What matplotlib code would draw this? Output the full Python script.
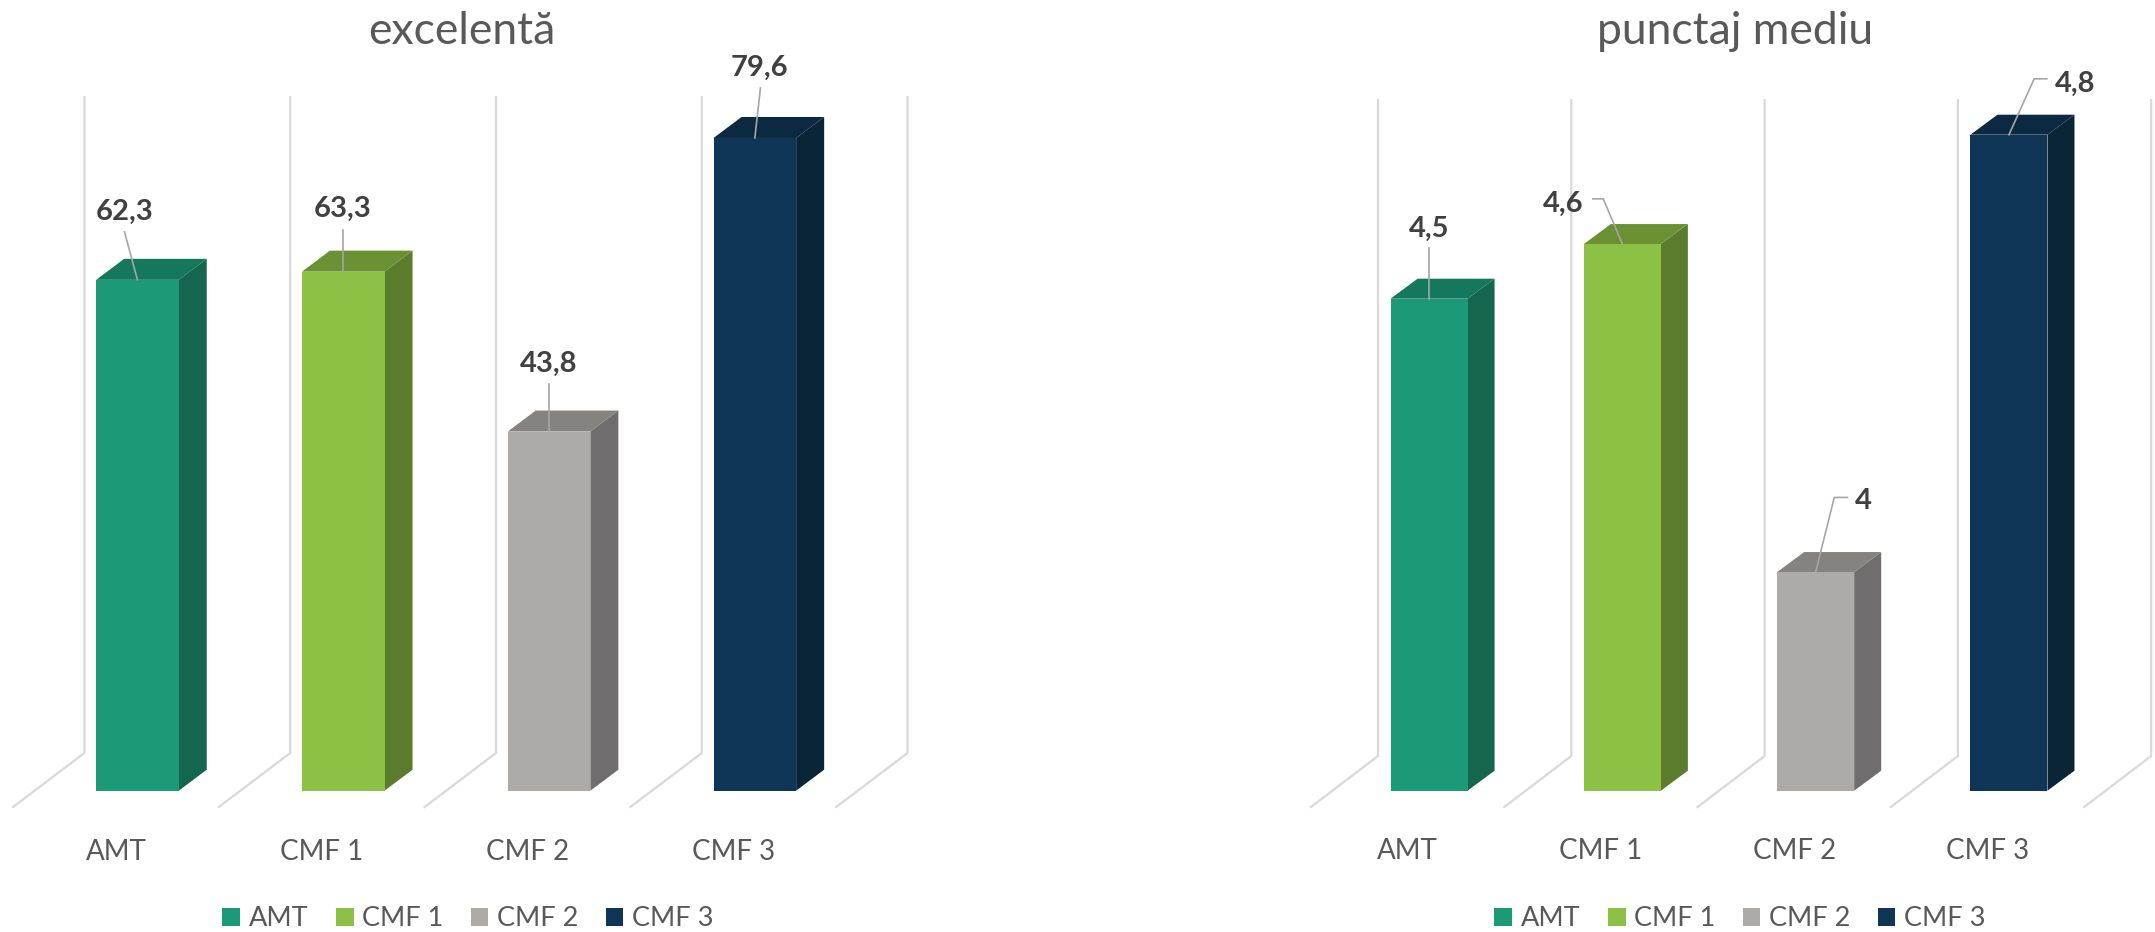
import matplotlib
matplotlib.use("Agg")
import matplotlib.pyplot as plt
from matplotlib.patches import Patch

plt.rcParams['font.family'] = ['Lato', 'Noto Sans', 'DejaVu Sans']

categories = ["AMT", "CMF 1", "CMF 2", "CMF 3"]
excelenta_values = [62.3, 63.3, 43.8, 79.6]
punctaj_values = [4.5, 4.6, 4.0, 4.8]
front_colors = ["#1C9A78", "#8CC146", "#AEAAA8", "#0F3557"]
side_colors = ["#14664F", "#5A7C2C", "#6F6D6D", "#0A2537"]
top_colors = ["#15775B", "#6A9234", "#858280", "#0B2A42"]

W, H = 2155, 932
GREY = "#595959"
DARK = "#404040"
LEADER = "#A6A6A6"
GRID = "#D9D9D9"

fig = plt.figure(figsize=(W / 100, H / 100), dpi=100, facecolor="white")


def draw_panel(title, values, base, top, x0, cat_px, bar_px, depth, floor, lift,
               title_x, title_y, legend_x, leaders, tick_pad):
    y_bottom_px, y_top_px = 807, 134.7
    ax = fig.add_axes([x0 / W, 1 - y_bottom_px / H, 4 * cat_px / W,
                       (y_bottom_px - y_top_px) / H])
    span_px = 656.0
    sy = (top - base) / span_px          # data units per pixel
    sx = 1 / cat_px                      # categories per pixel
    ymin = base - lift * sy
    ax.set_xlim(-0.5, 3.5)
    ax.set_ylim(ymin, top)
    for s in ax.spines.values():
        s.set_visible(False)
    ax.set_yticks([])
    ax.set_xticks(range(len(categories)))
    ax.set_xticklabels(categories, fontsize=20, color=GREY)
    ax.tick_params(axis="x", length=0, pad=tick_pad)

    # floor and back wall guide lines
    gdx, gdy = floor
    for i in range(len(categories) + 1):
        xf = i - 0.5
        xb = xf + gdx * sx
        yb = ymin + gdy * sy
        ax.plot([xf, xb, xb], [ymin, yb, yb + span_px * sy], color=GRID, lw=1.6,
                clip_on=False, zorder=1, solid_joinstyle="miter")

    # bars sit on a plane 'lift' px above the floor front edge
    off = (gdx * lift / gdy) * sx
    dx, dy = depth[0] * sx, depth[1] * sy
    width = bar_px * sx
    positions = [i + off for i in range(len(values))]
    handles = []
    for i, (p, v) in enumerate(zip(positions, values)):
        l, r = p - width / 2, p + width / 2
        ax.bar(p, v - base, width=width, bottom=base, color=front_colors[i],
               zorder=3, clip_on=False, linewidth=0)
        ax.fill([r, r + dx, r + dx, r], [base, base + dy, v + dy, v],
                color=side_colors[i], zorder=2, clip_on=False, linewidth=0)
        ax.fill([l, r, r + dx, l + dx], [v, v, v + dy, v + dy],
                color=top_colors[i], zorder=2, clip_on=False, linewidth=0)
        handles.append(Patch(facecolor=front_colors[i], label=categories[i]))

        # data label and leader, offsets in pixels from the top-centre of the bar
        text_off, path = leaders[i]
        px = [p + a * sx for a, _ in path] + [p]
        py = [v + b * sy for _, b in path] + [v]
        ax.plot(px, py, color=LEADER, lw=1.2, zorder=4, clip_on=False)
        ax.text(p + text_off[0] * sx, v + (text_off[1] - 2.5) * sy,
                f"{v:g}".replace(".", ","),
                ha="center", va="center", fontsize=21, fontweight="bold",
                color=DARK, zorder=5, clip_on=False)

    fig.text(title_x / W, 1 - title_y / H, title, ha="center", va="baseline",
             fontsize=32, color=GREY)
    fig.legend(handles=handles, loc="center", ncol=4, frameon=False,
               bbox_to_anchor=(legend_x / W, 1 - 919 / H), fontsize=19.5,
               labelcolor=GREY, handlelength=0.66, handleheight=0.66,
               handletextpad=0.32, columnspacing=1.0, borderpad=0, borderaxespad=0)


# text offset (px right, px up), then leader path points (px right, px up)
left_layout = [
    ((-13, 70.7), [(-13, 48)]),
    ((-1, 65), [(0, 42)]),
    ((-0.5, 69.7), [(0, 47.7)]),
    ((5, 72.3), [(5.6, 50)]),
]
right_layout = [
    ((0, 72.3), [(0, 50.9)]),
    ((-59.1, 42.9), [(-29.5, 45.2), (-19.1, 45.2)]),
    ((47.6, 73.1), [(31.7, 74.6), (18.6, 74.6)]),
    ((66.3, 53.6), [(37.8, 55.9), (25.2, 55.9)]),
]

draw_panel("excelentă", excelenta_values, 0, 80, 13, 205.8, 82.6, (28, 21),
           (71.4, 54), 16.3, 462, 43.5, 468, left_layout, 23)
draw_panel("punctaj mediu", punctaj_values, 3.6, 4.8, 1311, 193.3, 77, (27, 20),
           (67, 51), 16.3, 1734.6, 44.5, 1740, right_layout, 22)

fig.savefig("out.png", dpi=100)
